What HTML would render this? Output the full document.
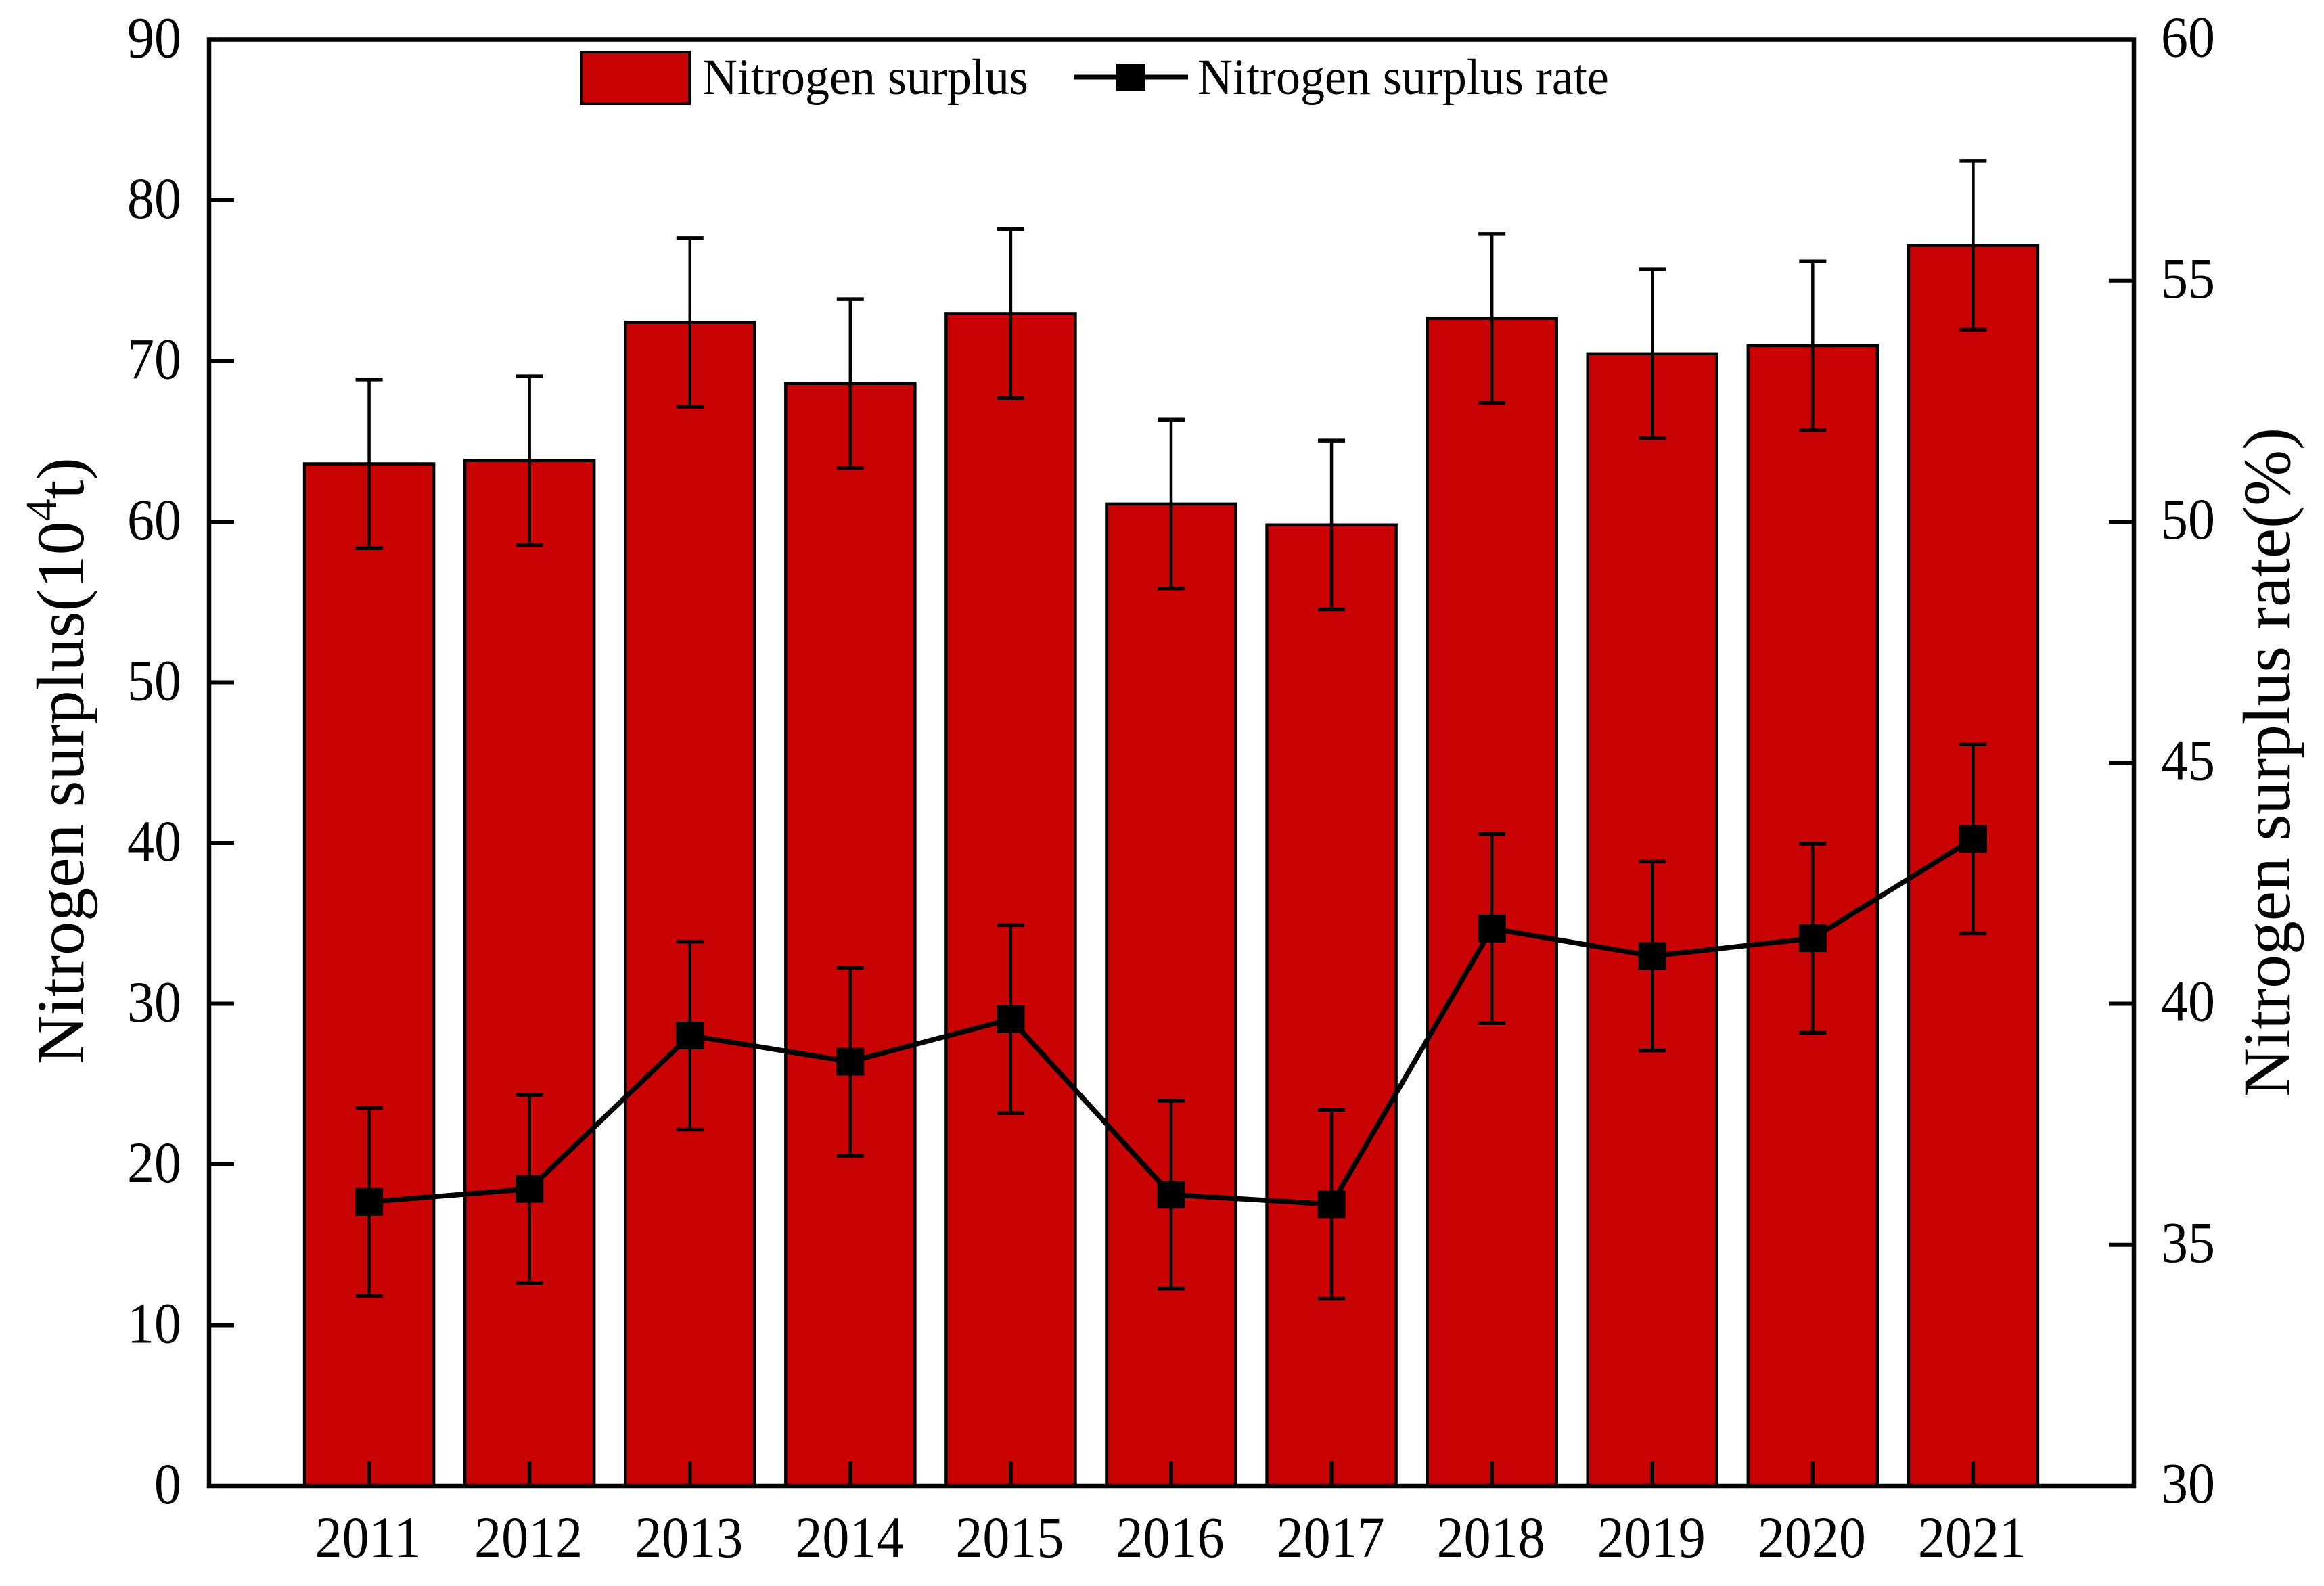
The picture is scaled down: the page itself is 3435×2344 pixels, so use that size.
<!DOCTYPE html>
<html lang="en">
<head>
<meta charset="utf-8">
<title>Nitrogen surplus and nitrogen surplus rate, 2011–2021</title>
<style>
  html, body { margin: 0; padding: 0; background: #fff; }
  svg { display: block; }
  text { font-family: "Liberation Serif", serif; fill: #000; }
</style>
</head>
<body>
<svg id="chart" xmlns="http://www.w3.org/2000/svg" width="3435" height="2344" viewBox="0 0 3435 2344">
  <rect x="0" y="0" width="3435" height="2344" fill="#ffffff"/>
  <g id="bars"></g>
  <g id="bar-errors"></g>
  <g id="rate-errors"></g>
  <g id="rate-series"></g>
  <g id="axes"></g>

  <text transform="translate(123,1573) rotate(-90)" font-size="100">Nitrogen surplus(10<tspan font-size="66" dy="-40">4</tspan><tspan dy="40">t)</tspan></text>
  <text transform="translate(3384,1621) rotate(-90)" font-size="99.5">Nitrogen surplus rate(%)</text>

  <g>
    <rect x="859" y="77" width="160" height="76" fill="#c90303" stroke="#000" stroke-width="4"/>
    <text transform="translate(1038,139) scale(1,1.05)" font-size="72">Nitrogen surplus</text>
    <line x1="1587" y1="114" x2="1756" y2="114" stroke="#000" stroke-width="7"/>
    <rect x="1650" y="94" width="43" height="41" fill="#000"/>
    <text transform="translate(1770,139) scale(1,1.05)" font-size="72">Nitrogen surplus rate</text>
  </g>
</svg>

<script>
const categories = [2011, 2012, 2013, 2014, 2015, 2016, 2017, 2018, 2019, 2020, 2021];
const surplusValues = [63.6, 63.8, 72.4, 68.6, 72.95, 61.1, 59.8, 72.65, 70.45, 70.95, 77.2];
const surplusErrors = [5.25, 5.25, 5.25, 5.25, 5.25, 5.25, 5.25, 5.25, 5.25, 5.25, 5.25];
const rateValues = [35.89, 36.16, 39.34, 38.80, 39.68, 36.04, 35.84, 41.56, 40.99, 41.36, 43.42];
const rateErrors = [1.95, 1.95, 1.95, 1.95, 1.95, 1.95, 1.96, 1.96, 1.96, 1.96, 1.96];
const leftTicks = [0, 10, 20, 30, 40, 50, 60, 70, 80, 90];
const rightTicks = [30, 35, 40, 45, 50, 55, 60];

const NS = 'http://www.w3.org/2000/svg';
const plotLeft = 309, plotRight = 3154, plotTop = 58.5, plotBottom = 2196;
const xDomainMin = 2010, xDomainMax = 2022;
const leftMin = 0, leftMax = 90, rightMin = 30, rightMax = 60;
const barWidth = 191, capWidth = 40, markerSize = 41, tickLength = 37;
const digitStretch = 1.07;

function xScale(year) {
  return plotLeft + (year - xDomainMin) / (xDomainMax - xDomainMin) * (plotRight - plotLeft);
}
function yLeft(v) {
  return plotBottom - (v - leftMin) / (leftMax - leftMin) * (plotBottom - plotTop);
}
function yRight(v) {
  return plotBottom - (v - rightMin) / (rightMax - rightMin) * (plotBottom - plotTop);
}
function make(tag, attrs, parent) {
  const node = document.createElementNS(NS, tag);
  for (const key in attrs) node.setAttribute(key, attrs[key]);
  parent.appendChild(node);
  return node;
}
function stretched(x, y) {
  return 'translate(' + x + ',' + y + ') scale(1,' + digitStretch + ')';
}

const barsGroup = document.getElementById('bars');
const barErrGroup = document.getElementById('bar-errors');
const rateErrGroup = document.getElementById('rate-errors');
const rateGroup = document.getElementById('rate-series');
const axesGroup = document.getElementById('axes');

function drawErrorBar(parent, cx, top, bottom, label) {
  const g = make('g', {}, parent);
  
  
  const stem = make('line', { x1: cx, x2: cx, y1: top, y2: bottom, stroke: '#000', 'stroke-width': 4.5 }, g);
  
  
  const capTop = make('line', { x1: cx - capWidth / 2, x2: cx + capWidth / 2, y1: top, y2: top, stroke: '#000', 'stroke-width': 5.5 }, g);
  
  
  const capBottom = make('line', { x1: cx - capWidth / 2, x2: cx + capWidth / 2, y1: bottom, y2: bottom, stroke: '#000', 'stroke-width': 5.5 }, g);
  
  
}

categories.forEach(function (year, i) {
  const cx = xScale(year) - 0.5;
  const top = yLeft(surplusValues[i]);
  const bar = make('rect', { x: cx - barWidth / 2, y: top, width: barWidth, height: plotBottom - top, fill: '#c90303', stroke: '#000', 'stroke-width': 4.5 }, barsGroup);
  
  
  drawErrorBar(barErrGroup, cx, yLeft(surplusValues[i] + surplusErrors[i]), yLeft(surplusValues[i] - surplusErrors[i]), 'surplus-error-bar-' + year);
  drawErrorBar(rateErrGroup, cx, yRight(rateValues[i] + rateErrors[i]), yRight(rateValues[i] - rateErrors[i]), 'rate-error-bar-' + year);
});

const ratePoints = categories.map(function (year, i) {
  return (xScale(year) - 0.5) + ',' + yRight(rateValues[i]);
}).join(' ');
const rateLine = make('polyline', { points: ratePoints, fill: 'none', stroke: '#000', 'stroke-width': 7.5, 'stroke-linejoin': 'miter' }, rateGroup);



categories.forEach(function (year, i) {
  const marker = make('rect', { x: xScale(year) - 0.5 - markerSize / 2, y: yRight(rateValues[i]) - markerSize / 2, width: markerSize, height: markerSize, fill: '#000' }, rateGroup);
  
  
});

const frame = make('rect', { x: plotLeft, y: plotTop, width: plotRight - plotLeft, height: plotBottom - plotTop, fill: 'none', stroke: '#000', 'stroke-width': 6.5 }, axesGroup);



leftTicks.forEach(function (v) {
  const y = yLeft(v);
  if (v !== leftMin && v !== leftMax) {
    const tick = make('line', { x1: plotLeft, x2: plotLeft + tickLength, y1: y, y2: y, stroke: '#000', 'stroke-width': 6 }, axesGroup);
    
    
  }
  const label = make('text', { transform: stretched(268, y + 26), 'font-size': 80, 'text-anchor': 'end' }, axesGroup);
  label.textContent = String(v);
  
  
});

rightTicks.forEach(function (v) {
  const y = yRight(v);
  if (v !== rightMin && v !== rightMax) {
    const tick = make('line', { x1: plotRight - tickLength, x2: plotRight, y1: y, y2: y, stroke: '#000', 'stroke-width': 6 }, axesGroup);
    
    
  }
  const label = make('text', { transform: stretched(3194, y + 25), 'font-size': 80, 'text-anchor': 'start' }, axesGroup);
  label.textContent = String(v);
  
  
});

categories.forEach(function (year) {
  const x = xScale(year) - 0.5;
  const tick = make('line', { x1: x, x2: x, y1: plotBottom, y2: plotBottom - tickLength, stroke: '#000', 'stroke-width': 5.5 }, axesGroup);
  
  
  const label = make('text', { transform: stretched(x - 1.5, 2301), 'font-size': 80, 'text-anchor': 'middle' }, axesGroup);
  label.textContent = String(year);
  
  
});
</script>
</body>
</html>
